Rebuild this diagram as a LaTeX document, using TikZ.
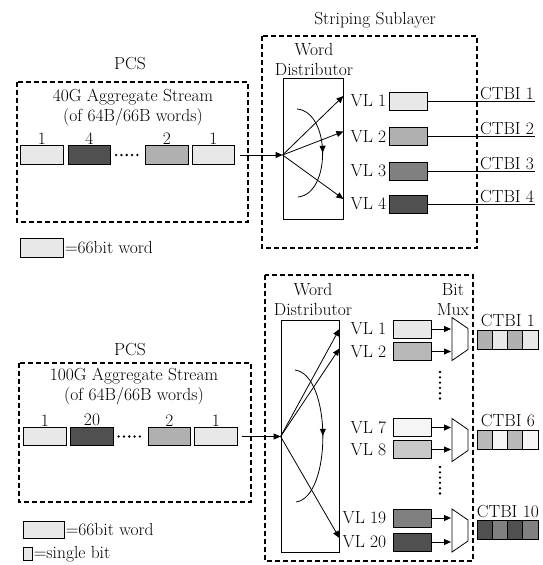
\documentclass[tikz,border=0pt]{standalone}
\usetikzlibrary{positioning,calc,arrows.meta,decorations.markings}

\definecolor{lightw}{HTML}{E8E8E8}
\definecolor{midw}{HTML}{B0B0B0}
\definecolor{greyw}{HTML}{808080}
\definecolor{darkw}{HTML}{505050}
\definecolor{midb}{HTML}{B8B8B8}
\definecolor{paleb}{HTML}{F5F5F5}
\definecolor{softb}{HTML}{C8C8C8}

\begin{document}
\begin{tikzpicture}[x=1pt, y=-1pt, font=\fontsize{17.5}{20}\selectfont,
    line width=0.8pt, >={Triangle[length=7pt,width=6pt]},
    dashbox/.style={draw, line width=1.4pt, dash pattern=on 5pt off 3pt},
    wordbox/.style={draw, minimum width=42.5pt, minimum height=18.5pt, inner sep=0pt},
    vlbox/.style={draw, minimum width=38pt, minimum height=18pt, inner sep=0pt},
    bitcell/.style={draw, minimum width=15.25pt, minimum height=19pt, inner sep=0pt},
    dotrow/.style={line width=2.6pt, line cap=round, dash pattern=on 0pt off 5.3pt},
    turn/.style={postaction={decorate},
      decoration={markings, mark=at position 0.5 with {\arrow{>}}}}]
  \useasboundingbox (0,0) rectangle (543,565);

  % 40G
  \node (pcs1) at (130,64) {PCS};
  \draw[dashbox] (17,82) rectangle (248,222);
  \node[align=center] (agg1) at (133,107) {40G Aggregate Stream\\(of 64B/66B words)};
  \node[wordbox, fill=lightw] (wa1) at (42,155) {};
  \node[wordbox, fill=darkw]  (wa2) at (89.5,155) {};
  \node[wordbox, fill=midw]   (wa3) at (167,155) {};
  \node[wordbox, fill=lightw] (wa4) at (213.5,155) {};
  \draw[dotrow] ([xshift=5pt]wa2.east) -- ([xshift=-4pt]wa3.west);
  \node[above=-3pt of wa1] {1};
  \node[above=-3pt of wa2] {4};
  \node[above=-3pt of wa3] {2};
  \node[above=-3pt of wa4] {1};

  \node (strip1) at (375,20) {Striping Sublayer};
  \draw[dashbox] (262,36) rectangle (477,248);
  \node[align=center] (wdl1) at (314,59) {Word\\Distributor};
  \node[draw, minimum width=60pt, minimum height=141pt] (wd1) at (313,148.5) {};
  \coordinate (fan1) at (wd1.west |- wa4);
  \draw[->] ([xshift=5pt]wa4.east) -- (fan1);

  \foreach \i/\y/\c in {1/101/lightw, 2/136.5/midw, 3/171/greyw, 4/204/darkw} {
    \node[vlbox, fill=\c] (vla\i) at (408,\y) {};
    \node[left=0pt of vla\i, inner xsep=2pt] (vlla\i) {VL \i};
    \node[anchor=south east, inner sep=1pt] (cta\i) at ([xshift=108pt]vla\i.east) {CTBI \i};
    \draw (vla\i.east) -- (cta\i.south east);
  }
  \foreach \i in {1,2,4}
    \draw[->] (fan1) -- ($(wd1.east |- vlla\i)+(0,-5)$);
  \draw[turn] (297,109) .. controls (331,112) and (331,194) .. (298,197);

  \node[wordbox, fill=lightw, minimum height=19pt] (lega) at (42,247.5) {};
  \node[right=0pt of lega, inner sep=1pt] {=66bit word};

  % 100G
  \node (pcs2) at (130,350) {PCS};
  \draw[dashbox] (19,363) rectangle (251,502);
  \node[align=center] (agg2) at (134,386) {100G Aggregate Stream\\(of 64B/66B words)};
  \node[wordbox, fill=lightw] (wb1) at (45,436.5) {};
  \node[wordbox, fill=darkw]  (wb2) at (92,436.5) {};
  \node[wordbox, fill=midw]   (wb3) at (169.5,436.5) {};
  \node[wordbox, fill=lightw] (wb4) at (216,436.5) {};
  \draw[dotrow] ([xshift=5pt]wb2.east) -- ([xshift=-4pt]wb3.west);
  \node[above=-3pt of wb1] {1};
  \node[above=-3pt of wb2] {20};
  \node[above=-3pt of wb3] {2};
  \node[above=-3pt of wb4] {1};

  \draw[dashbox] (265,275) rectangle (473,561);
  \node[align=center] (wdl2) at (313,299) {Word\\Distributor};
  \node[draw, minimum width=58pt, minimum height=232pt] (wd2) at (310,436) {};
  \coordinate (fan2) at (wd2.west |- wb4);
  \draw[->] ([xshift=4pt]wb4.east) -- (fan2);

  \node[align=center] (bitmux) at (453,300) {Bit\\Mux};
  \foreach \m/\y in {m1/339, m2/440, m3/530.5} {
    \coordinate (\m) at (452,\y);
    \draw (\m) ++(0,-21.5) -- ++(16,11) -- ++(0,21) -- ++(-16,11) -- cycle;
  }
  \foreach \i/\y/\c/\m in {1/329/lightw/m1, 2/351.5/midb/m1, 7/427.5/paleb/m2,
      8/449.5/softb/m2, 19/518/greyw/m3, 20/542/darkw/m3} {
    \node[vlbox, fill=\c] (vlb\i) at (412,\y) {};
    \node[left=4pt of vlb\i, inner xsep=2pt] (vllb\i) {VL \i};
    \draw[->] (vlb\i.east) -- ([xshift=-1pt]\m |- vlb\i);
  }
  \foreach \i/\d in {1/0, 2/3, 20/4}
    \draw[->] (fan2) -- ($(wd2.east |- vllb\i)+(0,-\d)$);
  \draw[turn] (295,370) .. controls (332,375) and (332,497) .. (296,502);
  \draw[dotrow] (440,372) -- (440,402);
  \draw[dotrow] (440,467) -- (440,498);

  \foreach \k/\y/\ca/\cb in {1/339.5/midw/lightw, 6/439.5/midb/paleb, 10/530/darkw/greyw} {
    \foreach \j/\c in {1/\ca, 2/\cb, 3/\ca, 4/\cb}
      \node[bitcell, fill=\c] (c\k-\j) at (469.35+15.25*\j,\y) {};
    \node[anchor=south, inner sep=2pt] (ctb\k) at (c\k-2.north east) {CTBI \k};
  }

  \node[wordbox, fill=lightw, minimum width=41pt, minimum height=17pt] (legb) at (43.5,530) {};
  \node[right=0pt of legb, inner sep=1pt] {=66bit word};
  \node[draw, fill=lightw, minimum width=9pt, minimum height=12.5pt, inner sep=0pt] (legc) at (27.5,554) {};
  \node[right=0pt of legc, inner sep=1pt] {=single bit};
\end{tikzpicture}
\end{document}
